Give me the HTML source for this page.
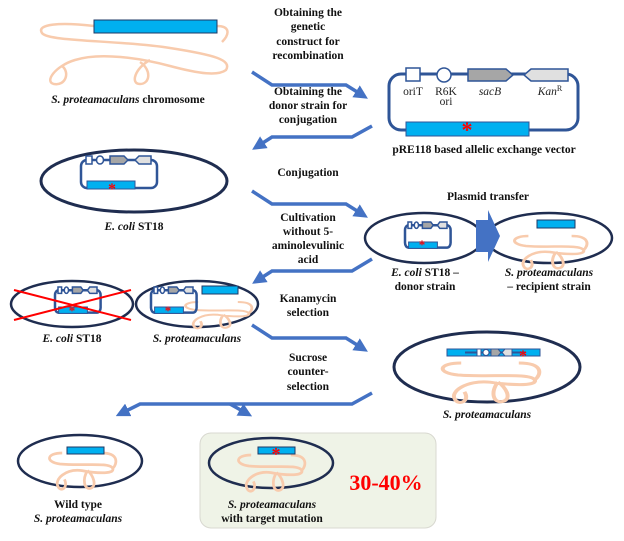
<!DOCTYPE html>
<html><head><meta charset="utf-8"><style>
html,body{margin:0;padding:0;background:#fff;}
svg{display:block;}
text{font-family:"Liberation Serif",serif;}
.b{font-weight:bold;font-size:11.5px;fill:#111;}
.i{font-style:italic;}
</style></head><body>
<svg width="624" height="541" viewBox="0 0 624 541" xmlns="http://www.w3.org/2000/svg">
<defs>
<g id="pl">
 <rect x="389" y="74" width="189" height="56" rx="12" fill="none" stroke="#2f5597" stroke-width="3"/>
 <rect x="406" y="68" width="14" height="13" fill="#fff" stroke="#2f5597" stroke-width="1.5"/>
 <circle cx="444" cy="75" r="7" fill="#fff" stroke="#2f5597" stroke-width="1.5"/>
 <path d="M468,69 H506 L513,75 L506,81 H468 Z" fill="#a6a6a6" stroke="#2f5597" stroke-width="1.5"/>
 <path d="M568,69 H531 L524,75 L531,81 H568 Z" fill="#e0e0e0" stroke="#2f5597" stroke-width="1.5"/>
 <rect x="406" y="122" width="123" height="14" fill="#00b0f0" stroke="#2f5597" stroke-width="1"/>
 <text x="467" y="137" font-size="22" fill="#ff0000" text-anchor="middle" font-family="Liberation Sans,sans-serif" font-weight="bold">*</text>
</g>
<g id="sp">
 <rect x="0" y="4" width="76" height="28" rx="6" fill="none" stroke="#2f5597" stroke-width="2.5" vector-effect="non-scaling-stroke"/>
 <rect x="5" y="0" width="6" height="8" fill="#fff" stroke="#2f5597" stroke-width="1.5" vector-effect="non-scaling-stroke"/>
 <ellipse cx="19" cy="4" rx="3.5" ry="4" fill="#fff" stroke="#2f5597" stroke-width="1.5" vector-effect="non-scaling-stroke"/>
 <path d="M29,0 H43 L47,4 L43,8 H29 Z" fill="#a6a6a6" stroke="#2f5597" stroke-width="1.5" vector-effect="non-scaling-stroke"/>
 <path d="M70,0 H58 L54,4 L58,8 H70 Z" fill="#e0e0e0" stroke="#2f5597" stroke-width="1.5" vector-effect="non-scaling-stroke"/>
 <rect x="6" y="25" width="48" height="8" fill="#00b0f0" stroke="#2f5597" stroke-width="1" vector-effect="non-scaling-stroke"/>
</g>
<g id="ch" fill="none" stroke="#f8cbad" stroke-width="2.5">
 <path d="M-18,-10 C-32,-10 -34,-2 -20,0 C0,2 25,-2 28,4 C30,10 10,8 0,6 C-15,4 -25,14 -22,20 C-20,26 -12,22 -16,14 M5,6 C0,14 2,24 8,22 C14,20 10,10 5,6 M18,-10 C34,-10 32,0 28,4"/>
</g>
<marker id="ah" markerWidth="4" markerHeight="4" refX="2" refY="2" orient="auto" markerUnits="strokeWidth">
 <path d="M0,0 L4,2 L0,4 Z" fill="#4472c4"/>
</marker>
</defs>

<path d="M94,26 C60,22 36,24 42,33 C48,42 120,40 170,48 C215,55 232,60 226,70 C218,76 200,74 170,66 C140,58 100,52 75,60 C55,66 44,82 54,84 C66,86 70,72 62,66 M150,60 C135,68 130,84 140,84 C150,84 152,70 140,62 M217,26 C230,26 230,34 222,42" fill="none" stroke="#f8cbad" stroke-width="2.5"/>
<rect x="94" y="20" width="123" height="13" fill="#00b0f0" stroke="#1f3864" stroke-width="1"/>
<text x="128" y="103" class="b" text-anchor="middle"><tspan class="i">S. proteamaculans</tspan> chromosome</text>

<g fill="none" stroke="#4472c4" stroke-width="3.5" stroke-linejoin="miter">
 <path d="M252,72 L272,85 L346,85 L362,95" marker-end="url(#ah)"/>
 <path d="M372,126 L352,137 L272,137 L258,146" marker-end="url(#ah)"/>
 <path d="M252,191 L272,204 L346,204 L362,214" marker-end="url(#ah)"/>
 <path d="M372,259 L352,271 L272,271 L258,280" marker-end="url(#ah)"/>
 <path d="M252,325 L272,338 L346,338 L362,348" marker-end="url(#ah)"/>
 <path d="M372,393 L352,404 L140,404 L122,413" marker-end="url(#ah)"/>
 <path d="M230,404 L246,413" marker-end="url(#ah)"/>
</g>

<g text-anchor="middle">
 <text x="308" y="16" class="b">Obtaining the</text>
 <text x="308" y="30" class="b">genetic</text>
 <text x="308" y="45" class="b">construct for</text>
 <text x="308" y="59" class="b">recombination</text>
 <text x="308" y="95" class="b">Obtaining the</text>
 <text x="308" y="109" class="b">donor strain for</text>
 <text x="308" y="123" class="b">conjugation</text>
 <text x="308" y="176" class="b">Conjugation</text>
 <text x="308" y="221" class="b">Cultivation</text>
 <text x="308" y="235" class="b">without 5-</text>
 <text x="308" y="249" class="b">aminolevulinic</text>
 <text x="308" y="263" class="b">acid</text>
 <text x="308" y="302" class="b">Kanamycin</text>
 <text x="308" y="316" class="b">selection</text>
 <text x="308" y="361" class="b">Sucrose</text>
 <text x="308" y="375" class="b">counter-</text>
 <text x="308" y="390" class="b">selection</text>
</g>

<use href="#pl"/>
<g font-size="11.5" fill="#222" text-anchor="middle">
 <text x="413" y="95">oriT</text>
 <text x="446" y="95">R6K</text>
 <text x="446" y="105">ori</text>
 <text x="490" y="95" class="i">sacB</text>
 <text x="550" y="95" class="i">Kan<tspan font-size="8" dy="-4" font-style="normal">R</tspan></text>
</g>
<text x="484" y="153" class="b" text-anchor="middle">pRE118 based allelic exchange vector</text>

<ellipse cx="134" cy="181" rx="93" ry="31" fill="none" stroke="#1f2d50" stroke-width="3"/>
<use href="#sp" transform="translate(81,156)"/>
<text x="112" y="194" font-size="16" fill="#ff0000" text-anchor="middle" font-family="Liberation Sans,sans-serif" font-weight="bold">*</text>
<text x="134" y="230" class="b" text-anchor="middle"><tspan class="i">E. coli</tspan> ST18</text>

<text x="488" y="200" class="b" text-anchor="middle">Plasmid transfer</text>
<ellipse cx="424" cy="238" rx="59" ry="25" fill="none" stroke="#1f2d50" stroke-width="2.5"/>
<ellipse cx="549" cy="238" rx="63" ry="25" fill="none" stroke="#1f2d50" stroke-width="2.5"/>
<use href="#sp" transform="translate(405,222) scale(0.6,0.8)"/>
<text x="422" y="249" font-size="13" fill="#ff0000" text-anchor="middle" font-family="Liberation Sans,sans-serif" font-weight="bold">*</text>
<path d="M476,220 H488 V210 L500,236 L488,262 V252 H476 Z" fill="#4472c4"/>
<use href="#ch" transform="translate(550,246) scale(1.2,1)"/>
<rect x="537" y="220" width="38" height="8" fill="#00b0f0" stroke="#1f3864" stroke-width="1"/>
<g text-anchor="middle">
 <text x="425" y="276" class="b"><tspan class="i">E. coli</tspan> ST18 –</text>
 <text x="425" y="290" class="b">donor strain</text>
 <text x="549" y="276" class="b i">S. proteamaculans</text>
 <text x="549" y="290" class="b">– recipient strain</text>
</g>

<ellipse cx="72" cy="304" rx="61" ry="23" fill="none" stroke="#1f2d50" stroke-width="2.5"/>
<ellipse cx="197" cy="304" rx="61" ry="23" fill="none" stroke="#1f2d50" stroke-width="2.5"/>
<use href="#sp" transform="translate(55,287) scale(0.6,0.8)"/>
<text x="72" y="315" font-size="13" fill="#ff0000" text-anchor="middle" font-family="Liberation Sans,sans-serif" font-weight="bold">*</text>
<path d="M14,290 L131,320 M14,320 L131,290" stroke="#ff0000" stroke-width="2"/>
<use href="#ch" transform="translate(218,310) scale(1.1,0.8)"/>
<use href="#sp" transform="translate(151,287) scale(0.6,0.8)"/>
<text x="168" y="315" font-size="13" fill="#ff0000" text-anchor="middle" font-family="Liberation Sans,sans-serif" font-weight="bold">*</text>
<rect x="202" y="286" width="36" height="8" fill="#00b0f0" stroke="#1f3864" stroke-width="1"/>
<text x="72" y="342" class="b" text-anchor="middle"><tspan class="i">E. coli</tspan> ST18</text>
<text x="197" y="342" class="b i" text-anchor="middle">S. proteamaculans</text>

<ellipse cx="487" cy="367" rx="93" ry="35" fill="none" stroke="#1f2d50" stroke-width="3"/>
<use href="#ch" transform="translate(490,375) scale(1.6,1.2)"/>
<rect x="447" y="349" width="93" height="7" fill="#00b0f0" stroke="#2f5597" stroke-width="1"/>
<path d="M465,352.5 H525" stroke="#2f5597" stroke-width="2"/>
<rect x="477" y="349" width="4" height="7" fill="#fff" stroke="#2f5597"/>
<circle cx="486" cy="352.5" r="3" fill="#fff" stroke="#2f5597"/>
<path d="M491,349 h7 l3,3.5 l-3,3.5 h-7z" fill="#a6a6a6" stroke="#2f5597"/>
<path d="M512,349 h-7 l-3,3.5 l3,3.5 h7z" fill="#e0e0e0" stroke="#2f5597"/>
<text x="523" y="361" font-size="16" fill="#ff0000" text-anchor="middle" font-family="Liberation Sans,sans-serif" font-weight="bold">*</text>
<text x="487" y="418" class="b i" text-anchor="middle">S. proteamaculans</text>

<ellipse cx="80" cy="461" rx="62" ry="26" fill="none" stroke="#1f2d50" stroke-width="2.5"/>
<use href="#ch" transform="translate(82,464) scale(1.1)"/>
<rect x="67" y="447" width="37" height="7" fill="#00b0f0" stroke="#1f3864" stroke-width="1"/>
<text x="78" y="508" class="b" text-anchor="middle">Wild type</text>
<text x="78" y="522" class="b i" text-anchor="middle">S. proteamaculans</text>

<rect x="200" y="433" width="236" height="95" rx="11" fill="#eff3e7" stroke="#d8d8d0" stroke-width="1"/>
<ellipse cx="271" cy="463" rx="62" ry="25" fill="none" stroke="#1f2d50" stroke-width="2.5"/>
<use href="#ch" transform="translate(271,466) scale(1.1)"/>
<rect x="258" y="447" width="37" height="7" fill="#00b0f0" stroke="#1f3864" stroke-width="1"/>
<text x="276" y="460" font-size="18" fill="#ff0000" text-anchor="middle" font-family="Liberation Sans,sans-serif" font-weight="bold">*</text>
<text x="386" y="490" font-size="22" font-weight="bold" fill="#ff0000" text-anchor="middle">30-40%</text>
<text x="272" y="508" class="b i" text-anchor="middle">S. proteamaculans</text>
<text x="272" y="522" class="b" text-anchor="middle">with target mutation</text>
</svg>
</body></html>
